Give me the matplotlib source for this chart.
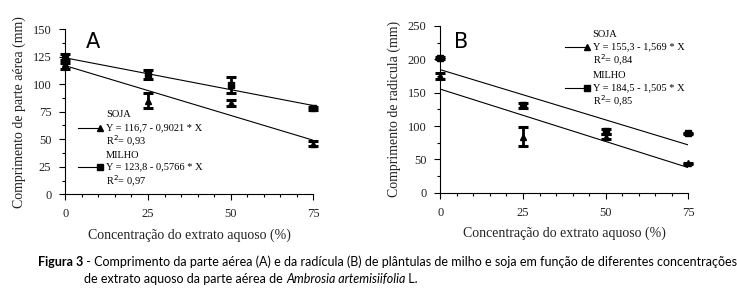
import matplotlib
matplotlib.use('Agg')
import matplotlib.pyplot as plt
import numpy as np
from matplotlib.ticker import MultipleLocator

# concentration of the aqueous extract (%)
conc = [0, 25, 50, 75]

# panel A - shoot length (mm)
a_soja = [118, 85, 83, 46]
a_soja_err = [4, 7, 3, 2]
a_milho = [123, 109, 99, 78]
a_milho_err = [4, 4, 7, 1.5]
a_soja_fit = (116.7, -0.9021)
a_milho_fit = (123.8, -0.5766)

# panel B - radicle length (mm)
b_soja = [175, 84, 84, 44]
b_soja_err = [5, 14, 4, 1]
b_milho = [202, 131, 92, 89]
b_milho_err = [2, 4, 4, 1]
b_soja_fit = (155.3, -1.569)
b_milho_fit = (184.5, -1.505)

a_soja_txt = ["SOJA", "Y = 116,7 - 0,9021 * X", "R$^2$= 0,93"]
a_milho_txt = ["MILHO", "Y = 123,8 - 0,5766 * X", "R$^2$= 0,97"]
b_soja_txt = ["SOJA", "Y = 155,3 - 1,569 * X", "R$^2$= 0,84"]
b_milho_txt = ["MILHO", "Y = 184,5 - 1,505 * X", "R$^2$= 0,85"]

SERIF = 'Liberation Serif'
W, H = 737, 288

fig = plt.figure(figsize=(W / 100, H / 100), dpi=100)


def px_axes(x0, x1, ytop, ybot):
    return fig.add_axes([x0 / W, 1 - ybot / H, (x1 - x0) / W, (ybot - ytop) / H])


def draw_panel(ax, soja, soja_err, milho, milho_err, sfit, mfit, ymax, ystep):
    xs = np.array([0, 75])
    ax.plot(xs, sfit[0] + sfit[1] * xs, color='black', lw=0.8)
    ax.plot(xs, mfit[0] + mfit[1] * xs, color='black', lw=0.8)
    for y, e, m in [(milho, milho_err, 's'), (soja, soja_err, '^')]:
        ax.errorbar(conc, y, yerr=e, fmt=m, color='black', ms=5, capsize=3.5,
                    elinewidth=2, capthick=2.2, clip_on=False, zorder=3)
    ax.set_xlim(0, 75)
    ax.set_ylim(0, ymax)
    ax.xaxis.set_major_locator(MultipleLocator(25))
    ax.xaxis.set_minor_locator(MultipleLocator(5))
    ax.yaxis.set_major_locator(MultipleLocator(ystep))
    ax.yaxis.set_minor_locator(MultipleLocator(ystep / 2))
    for s in ['top', 'right']:
        ax.spines[s].set_visible(False)
    ax.tick_params(which='major', direction='out', length=4, width=0.8,
                   labelsize=9, pad=6, labelcolor='#222222')
    ax.tick_params(which='minor', direction='out', length=2.5, width=0.8)
    for lab in ax.get_xticklabels() + ax.get_yticklabels():
        lab.set_family(SERIF)
    ax.set_xlabel('Concentração do extrato aquoso (%)', family=SERIF,
                  fontsize=10, labelpad=6, color='#222222')


def legend_block(ax, x_line, x_text, y_title, y_soja, y_r1, y_milho, y_mil, y_r2,
                 stxt, mtxt):
    kw = dict(transform=ax.transAxes, family=SERIF, fontsize=7.5, va='center')
    ax.text(x_text, y_title, stxt[0], **kw)
    ax.plot(x_line, [y_soja, y_soja], color='black', lw=0.8, marker='^', ms=4,
            markevery=[1], transform=ax.transAxes, clip_on=False)
    ax.text(x_text, y_soja, stxt[1], **kw)
    ax.text(x_text, y_r1, stxt[2], **kw)
    ax.text(x_text, y_milho, mtxt[0], **kw)
    ax.plot(x_line, [y_mil, y_mil], color='black', lw=0.8, marker='s', ms=4,
            markevery=[1], transform=ax.transAxes, clip_on=False)
    ax.text(x_text, y_mil, mtxt[1], **kw)
    ax.text(x_text, y_r2, mtxt[2], **kw)


axA = px_axes(65.3, 313.3, 29, 194.3)
draw_panel(axA, a_soja, a_soja_err, a_milho, a_milho_err, a_soja_fit, a_milho_fit, 150, 25)
axA.set_ylabel('Comprimento de parte aérea (mm)', family=SERIF, fontsize=10,
               labelpad=5, color='#222222')
axA.text(6.3, 138, 'A', fontsize=15, family='DejaVu Sans', va='center')
legend_block(axA, [0.051, 0.14], 0.164, 0.48, 0.40, 0.321, 0.232, 0.165, 0.08,
             a_soja_txt, a_milho_txt)

axB = px_axes(440.3, 688.3, 26, 192.7)
draw_panel(axB, b_soja, b_soja_err, b_milho, b_milho_err, b_soja_fit, b_milho_fit, 250, 50)
axB.set_ylabel('Comprimento de radicula (mm)', family=SERIF, fontsize=10,
               labelpad=5, color='#222222')
axB.text(4, 226, 'B', fontsize=15, family='DejaVu Sans', va='center')
legend_block(axB, [0.503, 0.592], 0.6145, 0.952, 0.876, 0.792, 0.702, 0.628, 0.546,
             b_soja_txt, b_milho_txt)

# caption
CAP = 'Lato'
cs = 9.0
fig.canvas.draw()
r = fig.canvas.get_renderer()


def run(x_px, y_px, parts):
    x = x_px
    for txt, kw in parts:
        t = fig.text(x / W, 1 - y_px / H, txt, family=CAP, fontsize=cs, va='center', **kw)
        x += t.get_window_extent(r).width
    return x


run(38, 262, [('Figura 3', dict(weight='bold')),
              (' - Comprimento da parte aérea (A) e da radícula (B) de plântulas de milho e soja '
               'em função de diferentes concentrações', {})])
run(84, 279, [('de extrato aquoso da parte aérea de ', {}),
              ('Ambrosia artemisiifolia', dict(style='italic')),
              (' L.', {})])

fig.savefig('out.png', dpi=100)
